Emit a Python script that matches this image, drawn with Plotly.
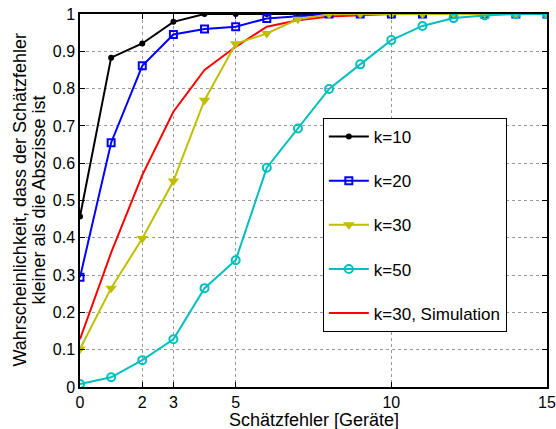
import plotly.graph_objects as go

# Schätzfehler in Geräten
x_vals = list(range(16))

# Wahrscheinlichkeit, dass der Schätzfehler kleiner als die Abszisse ist
p_k10 = [0.457, 0.883, 0.921, 0.979, 1.0, 1.0, 1.0, 1.0, 1.0, 1.0, 1.0, 1.0, 1.0, 1.0, 1.0, 1.0]
p_k20 = [0.294, 0.655, 0.861, 0.945, 0.960, 0.966, 0.988, 0.995, 1.0, 1.0, 1.0, 1.0, 1.0, 1.0, 1.0, 1.0]
p_k30 = [0.102, 0.265, 0.398, 0.552, 0.769, 0.920, 0.948, 0.986, 0.999, 1.0, 1.0, 1.0, 1.0, 1.0, 1.0, 1.0]
p_k50 = [0.008, 0.026, 0.072, 0.128, 0.265, 0.340, 0.588, 0.693, 0.799, 0.865, 0.930, 0.968, 0.989, 0.996, 1.0, 1.0]
p_sim = [0.128, 0.360, 0.568, 0.738, 0.850, 0.912, 0.966, 0.983, 0.993, 0.997, 1.0, 1.0, 1.0, 1.0, 1.0, 1.0]

x_ticks = [0, 2, 3, 5, 10, 15]
y_ticks = [0, 0.1, 0.2, 0.3, 0.4, 0.5, 0.6, 0.7, 0.8, 0.9, 1]
y_tick_text = ["0", "0.1", "0.2", "0.3", "0.4", "0.5", "0.6", "0.7", "0.8", "0.9", "1"]

x_title = "Schätzfehler [Geräte]"
y_title_lines = ["Wahrscheinlichkeit, dass der Schätzfehler", "kleiner als die Abszisse ist"]

FONT = "Liberation Sans, Arial, sans-serif"

fig = go.Figure()

fig.add_trace(go.Scatter(
    x=x_vals, y=p_sim, name="k=30, Simulation", mode="lines",
    line=dict(color="#FF0000", width=2), legendrank=5, legendgroup="sim"))
fig.add_trace(go.Scatter(
    x=x_vals, y=p_k10, name="k=10", mode="lines+markers",
    line=dict(color="#000000", width=2),
    marker=dict(symbol="circle", size=6, color="#000000"),
    legendrank=1, legendgroup="k10"))
fig.add_trace(go.Scatter(
    x=x_vals, y=p_k20, name="k=20", mode="lines+markers",
    line=dict(color="#0000FF", width=2),
    marker=dict(symbol="square-open", size=7, color="#0000FF", line=dict(width=2)),
    legendrank=2, legendgroup="k20"))
fig.add_trace(go.Scatter(
    x=x_vals, y=p_k30, name="k=30", mode="lines+markers",
    line=dict(color="#BFBF00", width=2),
    marker=dict(symbol="triangle-down", size=10, color="#BFBF00"),
    legendrank=3, legendgroup="k30"))
fig.add_trace(go.Scatter(
    x=x_vals, y=p_k50, name="k=50", mode="lines+markers",
    line=dict(color="#00BFBF", width=2),
    marker=dict(symbol="circle-open", size=8, color="#00BFBF", line=dict(width=2)),
    legendrank=4, legendgroup="k50"))

axis_common = dict(
    showline=True, linecolor="black", linewidth=1.5, mirror="ticks",
    ticks="inside", ticklen=5, tickcolor="black",
    showgrid=True, gridcolor="#9a9a9a", griddash="dot", gridwidth=1,
    zeroline=False, automargin=False,
    tickfont=dict(family=FONT, size=16, color="black"),
)

fig.update_xaxes(range=[0, 15], tickvals=x_ticks, **axis_common)
fig.update_yaxes(range=[0, 1], tickvals=y_ticks, ticktext=y_tick_text, **axis_common)

title_font = dict(family=FONT, size=18, color="black")

# Axis titles placed as annotations relative to the plot area
fig.add_annotation(
    text=x_title, xref="paper", yref="paper", x=0.5, y=0,
    xanchor="center", yanchor="top", yshift=-21, showarrow=False, font=title_font)
for line, shift in zip(y_title_lines, [-61, -42]):
    fig.add_annotation(
        text=line, xref="paper", yref="paper", x=0, y=0.5, textangle=-90,
        xanchor="center", yanchor="middle", xshift=shift, showarrow=False, font=title_font)

fig.update_layout(
    width=556, height=429,
    margin=dict(l=80, r=9, t=14, b=42),
    paper_bgcolor="white", plot_bgcolor="white",
    showlegend=True,
    legend=dict(
        x=0.52, y=0.721, xanchor="left", yanchor="top",
        bgcolor="white", bordercolor="black", borderwidth=1,
        font=dict(family=FONT, size=17, color="black"),
        tracegroupgap=19, itemwidth=40,
    ),
)

fig.write_html("out.html")
